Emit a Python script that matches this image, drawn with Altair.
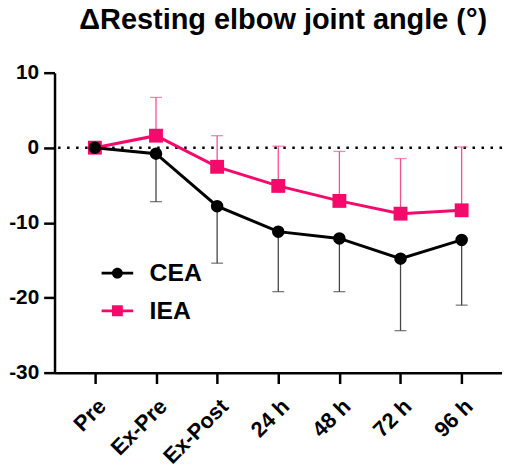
import altair as alt
import pandas as pd

times = ["Pre", "Ex-Pre", "Ex-Post", "24 h", "48 h", "72 h", "96 h"]
cea_mean = [0.0, -0.8, -7.8, -11.2, -12.1, -14.8, -12.3]
cea_sd = [0.0, 6.4, 7.6, 8.0, 7.1, 9.6, 8.7]
iea_mean = [0.0, 1.6, -2.55, -5.1, -7.1, -8.8, -8.35]
iea_sd = [0.0, 5.1, 4.15, 5.3, 6.6, 7.35, 8.45]
series = ["CEA", "IEA"]
colors = ["#000000", "#F50A6C"]
err_colors = ["#444444", "#F5508F"]

rows = []
for t, m, s in zip(times, iea_mean, iea_sd):
    rows.append({"time": t, "series": "IEA", "mean": m, "end": m + s, "sd": s})
for t, m, s in zip(times, cea_mean, cea_sd):
    rows.append({"time": t, "series": "CEA", "mean": m, "end": m - s, "sd": s})
df = pd.DataFrame(rows)

FONT = "Liberation Sans"
x = alt.X("time:N", sort=times, scale=alt.Scale(type="point", padding=0.66),
          axis=alt.Axis(title=None, labelAngle=-45, labelFontSize=22, labelFont=FONT,
                        labelFontWeight="bold", labelColor="black", domainColor="black",
                        domainWidth=2.5, tickColor="black", tickWidth=2.5, tickSize=11,
                        labelPadding=12, grid=False))
y_scale = alt.Scale(domain=[-30, 10], nice=False, zero=False)
y_axis = alt.Axis(title=None, values=[10, 0, -10, -20, -30], labelFontSize=21, labelFont=FONT,
                  labelFontWeight="bold", labelColor="black", domainColor="black",
                  domainWidth=2.5, tickColor="black", tickWidth=2.5, tickSize=11,
                  labelPadding=5, grid=False, labelExpr="replace(datum.label, '\u2212', '-')")

base = alt.Chart(df)

zero_line = alt.Chart(pd.DataFrame({"v": [0]})).mark_rule(
    color="black", strokeWidth=2.5, strokeDash=[2.5, 6.6]
).encode(y=alt.Y("v:Q", scale=y_scale, axis=y_axis))

layers = [zero_line]
for name, col, ecol, shp, sz in zip(["IEA", "CEA"], [colors[1], colors[0]],
                                    [err_colors[1], err_colors[0]], ["square", "circle"], [196, 160]):
    sub = base.transform_filter(alt.datum.series == name)
    errsub = sub.transform_filter(alt.datum.sd > 0)
    layers.append(errsub.mark_rule(color=ecol, strokeWidth=1.3).encode(
        x=x, y=alt.Y("mean:Q", scale=y_scale, axis=y_axis), y2="end:Q"))
    layers.append(errsub.mark_tick(color=ecol, thickness=1.3, size=12, orient="horizontal").encode(
        x=x, y=alt.Y("end:Q", scale=y_scale, axis=y_axis)))
    layers.append(sub.mark_line(color=col, strokeWidth=3).encode(
        x=x, y=alt.Y("mean:Q", scale=y_scale, axis=y_axis)))
    layers.append(sub.mark_point(filled=True, opacity=1, strokeWidth=0, shape=shp, size=sz, color=col).encode(
        x=x, y=alt.Y("mean:Q", scale=y_scale, axis=y_axis)))

cea_path = "M-2.9,-0.25H2.9V0.25H-2.9Z M1,0A1,1 0 1,1 -1,0A1,1 0 1,1 1,0Z"
iea_path = "M-2.9,-0.25H2.9V0.25H-2.9Z M-1,-1H1V1H-1Z"
legend = alt.Legend(
    title=None, orient="none", legendX=51, legendY=190, padding=0,
    labelFontSize=25, labelFont=FONT, labelFontWeight="bold", labelColor="black",
    symbolSize=121, labelOffset=20, rowPadding=12, symbolStrokeWidth=0,
)
legend_layer = base.transform_filter("false").mark_point(filled=True, opacity=1, strokeWidth=0).encode(
    x=x,
    y=alt.Y("mean:Q", scale=y_scale, axis=y_axis),
    color=alt.Color("series:N", scale=alt.Scale(domain=series, range=colors), legend=legend),
    shape=alt.Shape("series:N", scale=alt.Scale(domain=series, range=[cea_path, iea_path]), legend=legend),
)
layers.append(legend_layer)

chart = alt.layer(*layers).properties(
    width=452, height=303,
    title=alt.Title("ΔResting elbow joint angle (°)", font=FONT, fontSize=29.2, fontWeight="bold",
                    color="black", anchor="middle", offset=27, dx=5),
    autosize=alt.AutoSizeParams(type="none"),
    padding={"left": 47, "top": 63, "right": 0, "bottom": 96},
).configure_view(stroke=None)

chart.save("out.html", embed_options={"renderer": "svg", "actions": False})
